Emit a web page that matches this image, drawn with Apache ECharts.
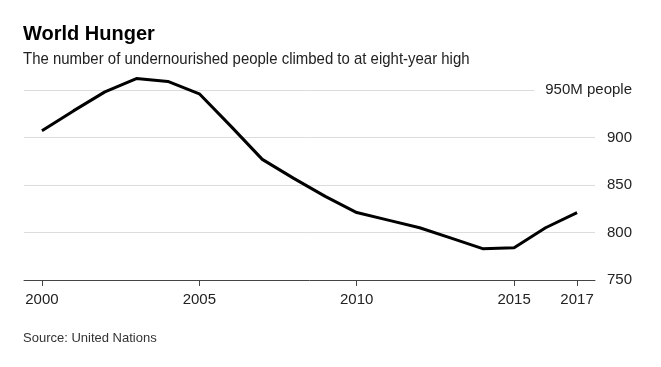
<!DOCTYPE html>
<html><head><meta charset="utf-8">
<script src="https://cdn.jsdelivr.net/npm/echarts@6/dist/echarts.min.js"></script>
<style>html,body{margin:0;padding:0;background:#fff}#c{width:661px;height:367px}</style>
</head><body><div id="c"></div>
<script>
const years = [2000,2001,2002,2003,2004,2005,2006,2007,2008,2009,2010,2011,2012,2013,2014,2015,2016,2017];
const undernourished = [907,928,948,962,959,946,912,877,857,838,821,813,805,794,783,784,805,821];
const xTickYears = [2000,2005,2010,2015,2017];
const yTicks = [750,800,850,900,950];
const titleText = 'World Hunger';
const subtitleText = 'The number of undernourished people climbed to at eight-year high';
const sourceText = 'Source: United Nations';

const chart = echarts.init(document.getElementById('c'), null, {renderer:'canvas'});
const font = 'Liberation Sans, Arial, sans-serif';
chart.setOption({
  animation:false,
  backgroundColor:'#fff',
  title:[
    {text:titleText,left:18,top:19,textStyle:{fontFamily:font,fontSize:20,fontWeight:'bold',color:'#000'}},
    {text:sourceText,left:18,top:327,textStyle:{fontFamily:font,fontSize:13,fontWeight:'normal',color:'#333'}}
  ],
  graphic:[{
    type:'text',x:23,y:59,scaleX:0.88,
    style:{text:subtitleText,font:'17px Liberation Sans, Arial, sans-serif',fill:'#222',textVerticalAlign:'middle',textAlign:'left'}
  }],
  grid:{left:24,right:66,top:90,bottom:87,containLabel:false},
  xAxis:{
    type:'value',min:1999.43,max:2017.57,
    axisLine:{show:true,lineStyle:{color:'#444',width:1}},
    axisTick:{show:true,length:6,lineStyle:{color:'#444'},customValues:xTickYears},
    axisLabel:{customValues:xTickYears,fontFamily:font,fontSize:15,color:'#222',margin:12,formatter:v=>String(v)},
    splitLine:{show:false}
  },
  yAxis:{
    type:'value',position:'right',min:yTicks[0],max:yTicks[yTicks.length-1],interval:50,
    axisLine:{show:false},axisTick:{show:false},
    axisLabel:{
      fontFamily:font,fontSize:15,color:'#222',align:'right',margin:37,
      formatter:v=> v===yTicks[yTicks.length-1] ? '{top|' + v + 'M people}' : String(v),
      rich:{top:{fontFamily:font,fontSize:15,color:'#222',backgroundColor:'#fff',padding:[4,0,4,11]}}
    },
    splitLine:{show:true,lineStyle:{color:'#dcdcdc',width:1}}
  },
  series:[{
    type:'line',
    data:years.map((y,i)=>[y,undernourished[i]]),
    showSymbol:false,symbol:'none',clip:false,
    lineStyle:{color:'#000',width:3},
    z:5
  }]
});
</script>
</body></html>
